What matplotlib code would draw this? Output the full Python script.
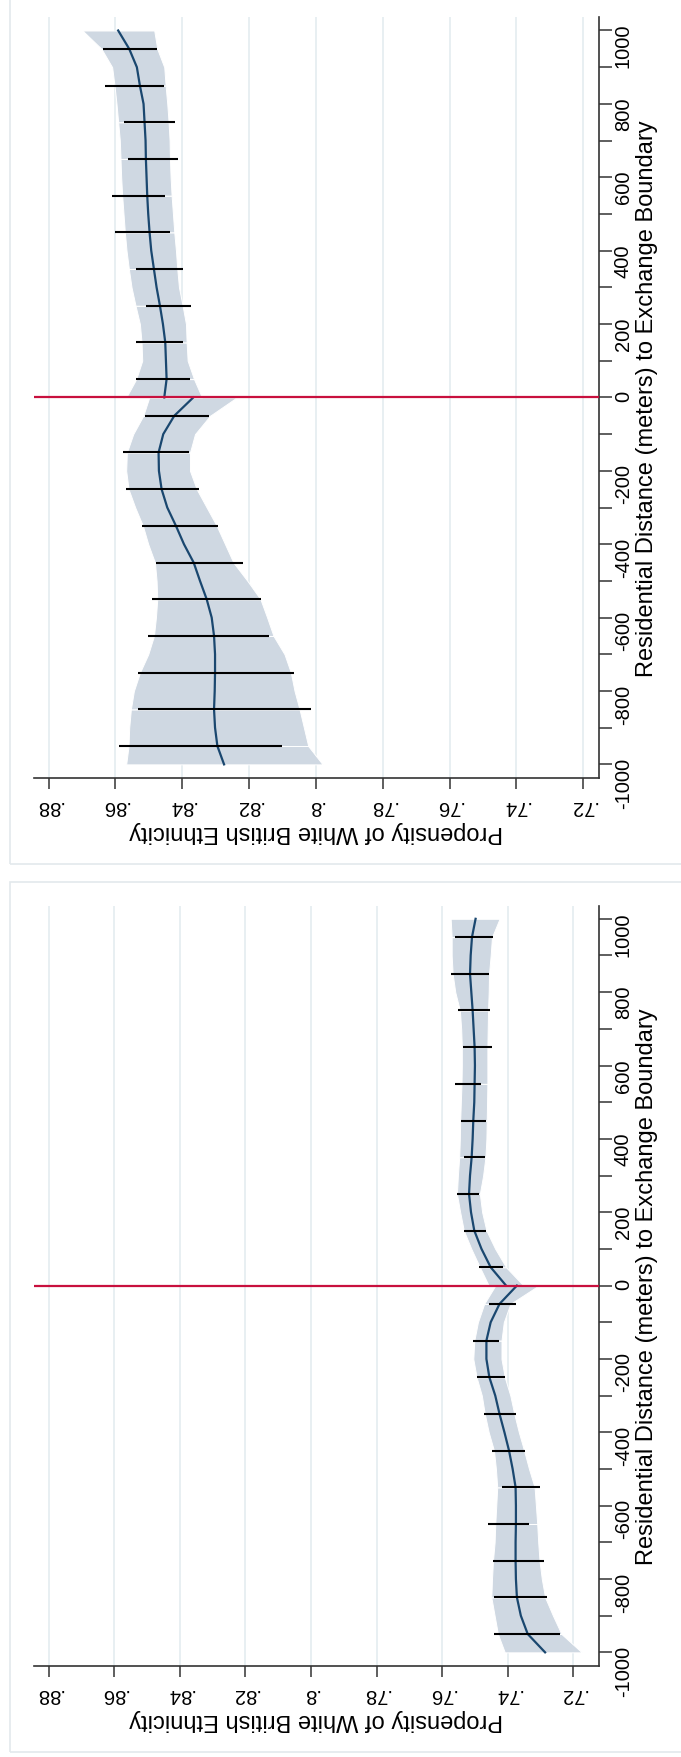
import numpy as np
import matplotlib
matplotlib.use("Agg")
import matplotlib.pyplot as plt
from matplotlib.patches import Rectangle

plt.rcParams['font.family'] = ['Liberation Sans', 'DejaVu Sans']
plt.rcParams['axes.unicode_minus'] = False

# distance grid (meters) where curve / band were read, and the bin centres
DIST_LEFT = np.arange(-1000, 1, 50)
DIST_RIGHT = np.arange(0, 1001, 50)
BINS_LEFT = np.arange(-950, 0, 100)
BINS_RIGHT = np.arange(50, 1000, 100)

PROP_TICKS = [.72, .74, .76, .78, .80, .82, .84, .86, .88]
PROP_LABELS = ['.72', '.74', '.76', '.78', '.8', '.82', '.84', '.86', '.88']
DIST_TICKS = [-1000, -800, -600, -400, -200, 0, 200, 400, 600, 800, 1000]
DIST_MINOR = [-900, -700, -500, -300, -100, 100, 300, 500, 700, 900]

XTITLE = "Propensity of White British Ethnicity"
YTITLE = "Residential Distance (meters) to Exchange Boundary"

# --- top panel ---
top_curve_l = [.8275, .8295, .8302, .8305, .8303, .8302, .8302, .8305, .8312, .8327, .8347,
               .8366, .8395, .8419, .8445, .8462, .8470, .8471, .8457, .8424, .8367]
top_hi_l = [.8568, .8561, .8559, .8554, .8545, .8527, .8502, .8485, .8479, .8475, .8477,
            .8482, .8502, .8518, .8541, .8561, .8568, .8566, .8547, .8517, .8499]
top_lo_l = [.7980, .8023, .8036, .8049, .8064, .8075, .8094, .8127, .8146, .8166, .8205,
            .8247, .8272, .8297, .8327, .8357, .8377, .8377, .8362, .8317, .8237]
top_curve_r = [.8454, .8447, .8449, .8451, .8458, .8467, .8477, .8485, .8493, .8498, .8502,
               .8505, .8507, .8509, .8510, .8513, .8516, .8527, .8536, .8559, .8592]
top_hi_r = [.8568, .8538, .8520, .8522, .8527, .8540, .8552, .8560, .8567, .8572, .8576,
            .8580, .8583, .8585, .8587, .8592, .8597, .8603, .8610, .8642, .8699]
top_lo_r = [.8341, .8365, .8384, .8387, .8389, .8399, .8410, .8415, .8419, .8424, .8428,
            .8432, .8435, .8437, .8438, .8441, .8445, .8450, .8454, .8475, .8484]
top_bar_lo_l = [.8103, .8015, .8067, .8141, .8165, .8219, .8294, .8351, .8379, .8319]
top_bar_hi_l = [.8588, .8532, .8533, .8502, .8491, .8478, .8520, .8568, .8579, .8511]
top_bar_lo_r = [.8377, .8398, .8373, .8399, .8438, .8451, .8412, .8423, .8454, .8475]
top_bar_hi_r = [.8539, .8539, .8509, .8540, .8600, .8611, .8562, .8574, .8630, .8637]

# --- bottom panel ---
bot_curve_l = [.7286, .7339, .7360, .7372, .7375, .7376, .7376, .7375, .7375, .7376, .7385,
               .7396, .7410, .7425, .7438, .7456, .7465, .7465, .7452, .7425, .7372]
bot_hi_l = [.7409, .7430, .7440, .7450, .7448, .7445, .7440, .7438, .7435, .7432, .7436,
            .7442, .7458, .7470, .7479, .7495, .7505, .7502, .7491, .7472, .7438]
bot_lo_l = [.7174, .7236, .7262, .7286, .7296, .7303, .7307, .7310, .7314, .7318, .7335,
            .7350, .7366, .7380, .7392, .7409, .7419, .7419, .7412, .7392, .7306]
bot_curve_r = [.7405, .7452, .7480, .7502, .7512, .7518, .7515, .7510, .7507, .7505, .7502,
               .7501, .7500, .7501, .7504, .7507, .7511, .7515, .7513, .7509, .7498]
bot_hi_r = [.7458, .7485, .7511, .7534, .7545, .7555, .7552, .7548, .7546, .7545, .7543,
            .7541, .7540, .7540, .7542, .7546, .7560, .7568, .7571, .7571, .7574]
bot_lo_r = [.7352, .7405, .7438, .7465, .7478, .7485, .7475, .7468, .7465, .7464, .7463,
            .7462, .7462, .7462, .7461, .7460, .7458, .7457, .7452, .7448, .7425]
bot_bar_lo_l = [.7240, .7279, .7289, .7335, .7303, .7346, .7376, .7408, .7428, .7375]
bot_bar_hi_l = [.7441, .7442, .7445, .7461, .7416, .7449, .7472, .7494, .7505, .7458]
bot_bar_lo_r = [.7415, .7465, .7489, .7468, .7465, .7481, .7448, .7454, .7457, .7446]
bot_bar_hi_r = [.7489, .7534, .7555, .7534, .7544, .7562, .7535, .7551, .7574, .7560]

BAND = '#cfd8e2'
NAVY = '#1a476f'
RED = '#c8103e'
GRID = '#e8eff2'
AXCOL = '#333333'


def band(ax, d, lo, hi, cuts):
    # stata draws the ci area in pieces, split at each bin centre
    d, lo, hi = np.asarray(d), np.asarray(lo), np.asarray(hi)
    edges = [d.min()] + list(cuts) + [d.max()]
    for a, b in zip(edges[:-1], edges[1:]):
        m = (d >= a) & (d <= b)
        ax.fill_betweenx(d[m], lo[m], hi[m], facecolor=BAND, edgecolor='white',
                         lw=0.7, zorder=2)


def draw_panel(ax, side_l, side_r, xlim):
    curve_l, hi_l, lo_l, blo_l, bhi_l = side_l
    curve_r, hi_r, lo_r, blo_r, bhi_r = side_r

    band(ax, DIST_LEFT, lo_l, hi_l, BINS_LEFT)
    band(ax, DIST_RIGHT, lo_r, hi_r, BINS_RIGHT)
    ax.plot(curve_l, DIST_LEFT, color=NAVY, lw=1.6, zorder=4)
    ax.plot(curve_r, DIST_RIGHT, color=NAVY, lw=1.6, zorder=4)
    ax.hlines(BINS_LEFT, blo_l, bhi_l, color='black', lw=1.5, zorder=5)
    ax.hlines(BINS_RIGHT, blo_r, bhi_r, color='black', lw=1.5, zorder=5)
    ax.axhline(0, color=RED, lw=1.6, zorder=6)

    ax.set_xlim(*xlim)
    ax.set_ylim(-1038, 1036)

    ax.set_xticks(PROP_TICKS)
    ax.set_xticklabels(PROP_LABELS, rotation=180)
    ax.tick_params(axis='x', length=8, width=1.1, pad=5, labelsize=14.5, color=AXCOL)

    ax.yaxis.tick_right()
    ax.set_yticks(DIST_TICKS)
    ax.set_yticks(DIST_MINOR, minor=True)
    ax.tick_params(axis='y', which='both', length=9, width=1.1, pad=2,
                   labelsize=14.5, labelrotation=90, color=AXCOL)

    ax.grid(axis='x', color=GRID, lw=1.4)
    ax.set_axisbelow(True)
    for s in ['left', 'top']:
        ax.spines[s].set_visible(False)
    for s in ['right', 'bottom']:
        ax.spines[s].set_color(AXCOL)
        ax.spines[s].set_linewidth(1.2)

    ax.text(1.086, 0.5, YTITLE, rotation=90, ha='center', va='center',
            fontsize=17, transform=ax.transAxes)
    ax.text(0.5, -0.069, XTITLE, rotation=180, ha='center', va='center',
            fontsize=17, transform=ax.transAxes)


fig = plt.figure(figsize=(6.81, 17.58), dpi=100)

# light panel frames (they run off the right and top edge of the image)
fig.patches.append(Rectangle((0.0153, 0.5080), 1.1, 0.5, transform=fig.transFigure,
                             fill=False, edgecolor='#e3e9ec', lw=1.2))
fig.patches.append(Rectangle((0.0153, 0.0028), 1.1, 0.4949, transform=fig.transFigure,
                             fill=False, edgecolor='#e3e9ec', lw=1.2))

ax1 = fig.add_axes([0.0499, 0.5567, 0.8290, 0.4329])
draw_panel(ax1,
           (top_curve_l, top_hi_l, top_lo_l, top_bar_lo_l, top_bar_hi_l),
           (top_curve_r, top_hi_r, top_lo_r, top_bar_lo_r, top_bar_hi_r),
           (0.8844, 0.7154))

ax2 = fig.add_axes([0.0499, 0.0516, 0.8290, 0.4327])
draw_panel(ax2,
           (bot_curve_l, bot_hi_l, bot_lo_l, bot_bar_lo_l, bot_bar_hi_l),
           (bot_curve_r, bot_hi_r, bot_lo_r, bot_bar_lo_r, bot_bar_hi_r),
           (0.8845, 0.7123))

fig.savefig("out.png", dpi=100)
